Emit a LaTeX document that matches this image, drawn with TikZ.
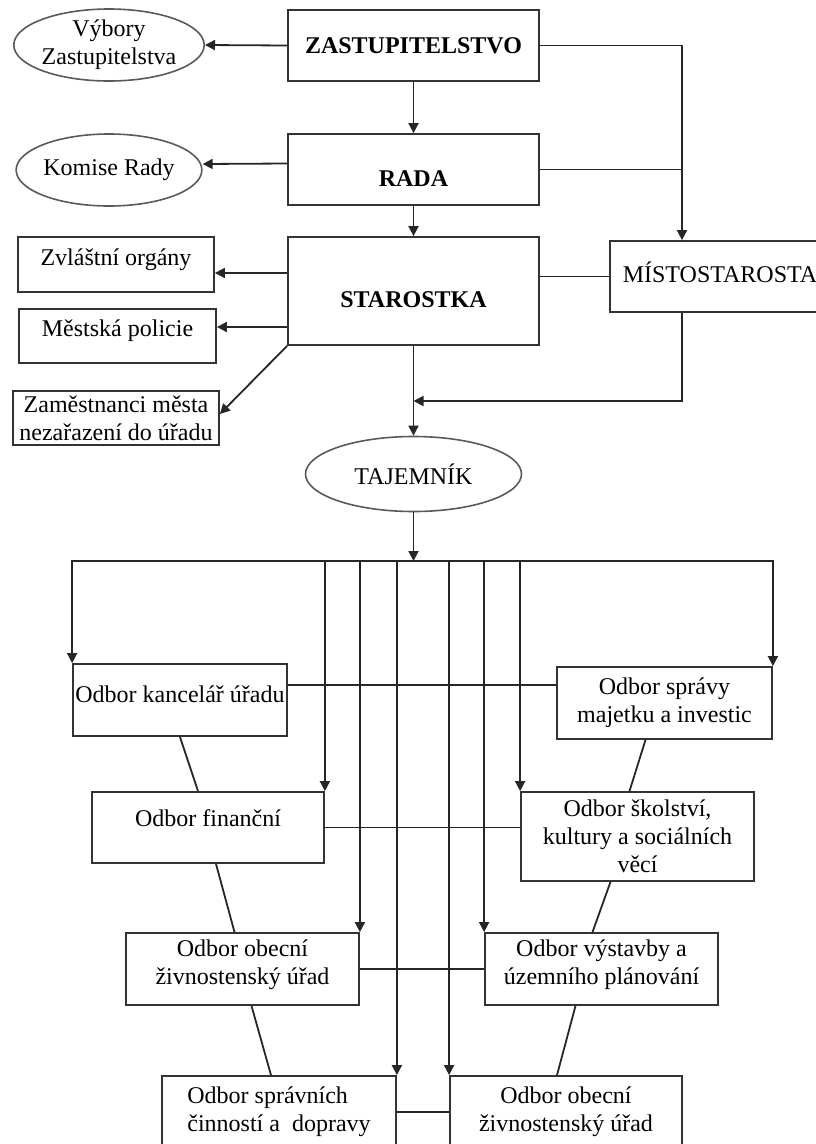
\documentclass[tikz,border=0pt]{standalone}
\usepackage{fontspec}
\setmainfont{Liberation Serif}
\usetikzlibrary{arrows.meta,shapes.geometric}

\begin{document}
\begin{tikzpicture}[x=1pt,y=-1pt,
	font=\fontsize{24}{28}\selectfont,
	box/.style={draw=black!80,line width=1.8pt,rectangle,inner sep=2pt,align=center},
	oval/.style={draw=black!65,line width=1.6pt,ellipse,inner sep=0pt,align=center},
	wire/.style={line width=1.8pt,black!85},
	arr/.style={wire,-{Triangle[length=10pt,width=10pt]}},
	low/.style={text height=33pt,text depth=0pt},
	high/.style={text depth=#1}]
	\useasboundingbox (0,0) rectangle (816,1144);
	\clip (0,0) rectangle (816,1144);

	% vedeni mesta
	\node[oval,minimum width=180pt,minimum height=72pt] (vybory) at (109,45) {Výbory\\Zastupitelstva};
	\node[box,minimum width=251pt,minimum height=71pt] (zastup) at (413.5,45.5) {\textbf{ZASTUPITELSTVO}};
	\node[oval,minimum width=180pt,minimum height=72pt] (komise) at (109,170) {Komise Rady};
	\node[box,low,minimum width=251pt,minimum height=71pt] (rada) at (413.5,169.5) {\textbf{RADA}};
	\node[box,low,minimum width=251pt,minimum height=108pt] (starostka) at (413.5,291) {\textbf{STAROSTKA}};
	\node[box,high=15pt,minimum width=196pt,minimum height=55pt] (zvlastni) at (116,264.5) {Zvláštní orgány};
	\node[box,high=15pt,minimum width=197pt,minimum height=54pt] (policie) at (117.5,336) {Městská policie};
	\node[box,inner sep=1pt,minimum width=206pt,minimum height=54pt] (zamestnanci) at (116,418) {Zaměstnanci města\\nezařazení do úřadu};
	\node[box,high=8pt,minimum width=220pt,minimum height=71pt] (mistostarosta) at (720,276.5) {MÍSTOSTAROSTA};
	\node[oval,minimum width=216pt,minimum height=75pt] (tajemnik) at (413.5,474) {TAJEMNÍK};

	\coordinate (m) at (682,401);
	\coordinate (mjoin) at (413.5,401);
	\coordinate (bus) at (413.5,561);

	\draw[arr] (zastup.west) -- (vybory.east);
	\draw[arr] (zastup) -- (rada);
	\draw[arr] (zastup.east) -| (mistostarosta.north -| m);
	\draw[wire] (rada.east) -- (rada.east -| m);
	\draw[arr] ([yshift=6pt]rada.west) -- ([yshift=6pt]komise.east);
	\draw[arr] (rada) -- (starostka);
	\draw[arr] ([yshift=18pt]starostka.west) -- ([yshift=18pt]starostka.west -| zvlastni.east);
	\draw[arr] ([yshift=-36pt]starostka.west) -- ([yshift=-36pt]starostka.west -| policie.east);
	\draw[arr] (starostka.south west) -- ([yshift=4pt]zamestnanci.east);
	\draw[wire] (starostka.east |- mistostarosta.west) -- (mistostarosta.west);
	\draw[arr] (mistostarosta.south -| m) |- (mjoin);
	\draw[arr] (starostka) -- (tajemnik);
	\draw[arr] (tajemnik) -- (bus);

	% odbory
	\node[box,high=12pt,minimum width=214pt,minimum height=72pt] (kancelar) at (180,700) {Odbor kancelář úřadu};
	\node[box,minimum width=215pt,minimum height=72pt] (spravamaj) at (664.5,703) {Odbor správy\\majetku a investic};
	\node[box,high=18pt,minimum width=232pt,minimum height=71pt] (financni) at (208,827.5) {Odbor finanční};
	\node[box,minimum width=233pt,minimum height=89pt] (skolstvi) at (637.5,836.5) {Odbor školství,\\kultury a sociálních\\věcí};
	\node[box,high=13pt,minimum width=233pt,minimum height=72pt] (obecni) at (242.5,969) {Odbor obecní\\živnostenský úřad};
	\node[box,high=13pt,minimum width=233pt,minimum height=72pt] (vystavba) at (601.5,969) {Odbor výstavby a\\územního plánování};
	\node[box,align=left,minimum width=234pt,minimum height=72pt] (spravni) at (279,1112) {Odbor správních\\činností a \ dopravy};
	\node[box,minimum width=232pt,minimum height=72pt] (obecni2) at (566,1112) {Odbor obecní\\živnostenský úřad};

	\draw[arr] (bus) -| (kancelar.north west);
	\draw[arr] (bus) -| (spravamaj.north east);
	\draw[arr] (bus -| financni.north east) -- (financni.north east);
	\draw[arr] (bus -| obecni.north east) -- (obecni.north east);
	\draw[arr] (bus -| spravni.north east) -- (spravni.north east);
	\draw[arr] (bus -| obecni2.north west) -- (obecni2.north west);
	\draw[arr] (bus -| vystavba.north west) -- (vystavba.north west);
	\draw[arr] (bus -| skolstvi.north west) -- (skolstvi.north west);

	\draw[wire] ([yshift=15pt]kancelar.east) -- ([yshift=15pt]kancelar.east -| spravamaj.west);
	\draw[wire] (financni.east) -- (financni.east -| skolstvi.west);
	\draw[wire] (obecni.east) -- (vystavba.west);
	\draw[wire] (spravni.east) -- (obecni2.west);

	\draw[wire] (kancelar.south) -- ([xshift=-10pt]financni.north);
	\draw[wire] ([xshift=-19pt]spravamaj.south) -- ([xshift=-8pt]skolstvi.north);
	\draw[wire] ([xshift=8pt]financni.south) -- ([xshift=-8pt]obecni.north);
	\draw[wire] ([xshift=-27pt]skolstvi.south) -- ([xshift=-9pt]vystavba.north);
	\draw[wire] ([xshift=9pt]obecni.south) -- ([xshift=-8pt]spravni.north);
	\draw[wire] ([xshift=-26pt]vystavba.south) -- ([xshift=-9pt]obecni2.north);
\end{tikzpicture}
\end{document}
